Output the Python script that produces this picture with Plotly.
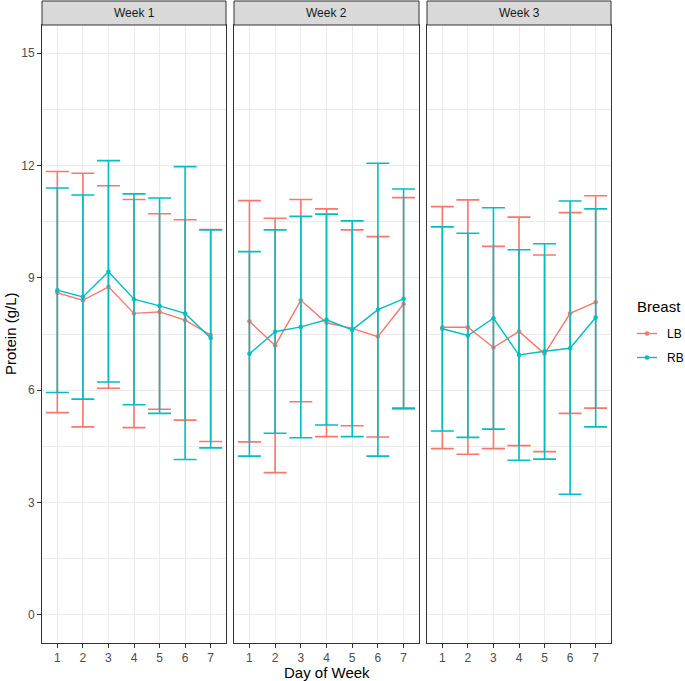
import plotly.graph_objects as go

days = [1, 2, 3, 4, 5, 6, 7]
weeks = ["Week 1", "Week 2", "Week 3"]
y_ticks = [0, 3, 6, 9, 12, 15]

lb_mean_w1 = [8.60, 8.40, 8.76, 8.05, 8.09, 7.87, 7.47]
lb_low_w1 = [5.40, 5.02, 6.05, 5.00, 5.49, 5.20, 4.63]
lb_high_w1 = [11.84, 11.79, 11.46, 11.09, 10.71, 10.55, 10.29]
rb_mean_w1 = [8.67, 8.49, 9.16, 8.43, 8.25, 8.05, 7.39]
rb_low_w1 = [5.94, 5.76, 6.22, 5.61, 5.38, 4.15, 4.46]
rb_high_w1 = [11.40, 11.21, 12.13, 11.24, 11.13, 11.97, 10.28]

lb_mean_w2 = [7.84, 7.19, 8.40, 7.80, 7.65, 7.43, 8.30]
lb_low_w2 = [4.62, 3.80, 5.69, 4.76, 5.05, 4.75, 5.50]
lb_high_w2 = [11.06, 10.59, 11.09, 10.84, 10.28, 10.10, 11.14]
rb_mean_w2 = [6.97, 7.56, 7.69, 7.88, 7.61, 8.15, 8.44]
rb_low_w2 = [4.24, 4.85, 4.73, 5.07, 4.76, 4.24, 5.52]
rb_high_w2 = [9.70, 10.28, 10.64, 10.70, 10.52, 12.06, 11.37]

lb_mean_w3 = [7.68, 7.68, 7.14, 7.57, 6.97, 8.05, 8.35]
lb_low_w3 = [4.44, 4.29, 4.44, 4.52, 4.36, 5.38, 5.52]
lb_high_w3 = [10.90, 11.08, 9.84, 10.62, 9.61, 10.74, 11.19]
rb_mean_w3 = [7.64, 7.46, 7.92, 6.94, 7.04, 7.12, 7.94]
rb_low_w3 = [4.91, 4.74, 4.96, 4.13, 4.16, 3.22, 5.02]
rb_high_w3 = [10.36, 10.19, 10.87, 9.75, 9.91, 11.05, 10.84]

LB_COLOR = "#F8766D"
RB_COLOR = "#00BFC4"
FONT = "Liberation Sans, Arial, sans-serif"

W, H = 685, 681
ML, MR, MT, MB = 42, 74, 25, 38
PW = W - ML - MR
PH = H - MT - MB

def px_x(p):
    return (p - ML) / PW

def px_y(p):
    return (H - MB - p) / PH

panel_px = [(42, 226), (234, 419), (427, 611)]
domains = [[px_x(a), px_x(b)] for a, b in panel_px]

series = [
    (lb_mean_w1, lb_low_w1, lb_high_w1, rb_mean_w1, rb_low_w1, rb_high_w1),
    (lb_mean_w2, lb_low_w2, lb_high_w2, rb_mean_w2, rb_low_w2, rb_high_w2),
    (lb_mean_w3, lb_low_w3, lb_high_w3, rb_mean_w3, rb_low_w3, rb_high_w3),
]

fig = go.Figure()

for i, (lm, ll, lh, rm, rl, rh) in enumerate(series):
    xa = "x" if i == 0 else f"x{i+1}"
    ya = "y" if i == 0 else f"y{i+1}"
    for name, m, lo, hi, col in (("LB", lm, ll, lh, LB_COLOR), ("RB", rm, rl, rh, RB_COLOR)):
        fig.add_trace(go.Scatter(
            x=days, y=m, mode="lines+markers", name=name,
            xaxis=xa, yaxis=ya, showlegend=False,
            line=dict(color=col, width=1.4),
            marker=dict(color=col, size=4.5),
            error_y=dict(type="data", symmetric=False,
                         array=[h - v for h, v in zip(hi, m)],
                         arrayminus=[v - l for v, l in zip(m, lo)],
                         color=col, thickness=1.6, width=11.5),
        ))

axis_common = dict(
    showline=True, mirror=True, linecolor="#333333", linewidth=1,
    showgrid=True, gridcolor="#EBEBEB", gridwidth=1.1,
    zeroline=False, ticks="outside", ticklen=4, tickcolor="#333333", tickwidth=1,
    tickfont=dict(family=FONT, size=12, color="#4D4D4D"),
)

layout = dict(
    width=W, height=H,
    margin=dict(l=ML, r=MR, t=MT, b=MB),
    paper_bgcolor="white", plot_bgcolor="white",
    showlegend=False,
    font=dict(family=FONT),
)

for i in range(3):
    xk = "xaxis" if i == 0 else f"xaxis{i+1}"
    yk = "yaxis" if i == 0 else f"yaxis{i+1}"
    layout[xk] = dict(axis_common, domain=domains[i], range=[0.4, 7.6],
                      tickvals=days, ticktext=[str(d) for d in days],
                      anchor="y" if i == 0 else f"y{i+1}")
    ydict = dict(axis_common, domain=[0, 1], range=[-0.75, 15.75],
                 tickvals=y_ticks,
                 minor=dict(tickvals=[1.5, 4.5, 7.5, 10.5, 13.5], showgrid=True,
                            gridcolor="#EBEBEB", gridwidth=0.6, ticks=""),
                 anchor="x" if i == 0 else f"x{i+1}")
    if i > 0:
        ydict["showticklabels"] = False
        ydict["ticks"] = ""
        ydict["matches"] = "y"
    layout[yk] = ydict

fig.update_layout(**layout)

shapes = []
annotations = []
strip_h = 24 / PH
for i, d in enumerate(domains):
    shapes.append(dict(type="rect", xref="paper", yref="paper",
                       x0=d[0], x1=d[1], y0=1, y1=1 + strip_h,
                       fillcolor="#D9D9D9", line=dict(color="#333333", width=1)))
    annotations.append(dict(text=weeks[i], xref="paper", yref="paper",
                            x=(d[0] + d[1]) / 2, y=1 + strip_h / 2,
                            xanchor="center", yanchor="middle", showarrow=False,
                            font=dict(family=FONT, size=12, color="#1A1A1A")))

annotations.append(dict(text="Day of Week", xref="paper", yref="paper",
                        x=px_x(326.5), y=px_y(672), xanchor="center", yanchor="middle",
                        showarrow=False, font=dict(family=FONT, size=15, color="black")))
annotations.append(dict(text="Protein (g/L)", xref="paper", yref="paper",
                        x=px_x(10), y=px_y(334), xanchor="center", yanchor="middle",
                        textangle=-90, showarrow=False,
                        font=dict(family=FONT, size=15, color="black")))

# legend
annotations.append(dict(text="Breast", xref="paper", yref="paper",
                        x=px_x(635), y=px_y(306), xanchor="left", yanchor="middle",
                        showarrow=False, font=dict(family=FONT, size=15, color="black")))
for lab, col, yy in (("LB", LB_COLOR, 333.5), ("RB", RB_COLOR, 357.5)):
    shapes.append(dict(type="line", xref="paper", yref="paper",
                       x0=px_x(637), x1=px_x(657), y0=px_y(yy), y1=px_y(yy),
                       line=dict(color=col, width=1.4)))
    shapes.append(dict(type="circle", xref="paper", yref="paper",
                       xsizemode="pixel", ysizemode="pixel",
                       xanchor=px_x(647), yanchor=px_y(yy),
                       x0=-2.3, x1=2.3, y0=-2.3, y1=2.3,
                       fillcolor=col, line=dict(color=col, width=0)))
    annotations.append(dict(text=lab, xref="paper", yref="paper",
                            x=px_x(665), y=px_y(yy), xanchor="left", yanchor="middle",
                            showarrow=False, font=dict(family=FONT, size=12, color="black")))

fig.update_layout(shapes=shapes, annotations=annotations)
fig.write_html("out.html", config={"displayModeBar": False})

with open("out.html", "r", encoding="utf-8") as f:
    html = f.read()
html = html.replace("<body>", '<body style="margin:0;padding:0;overflow:hidden">', 1)
with open("out.html", "w", encoding="utf-8") as f:
    f.write(html)
